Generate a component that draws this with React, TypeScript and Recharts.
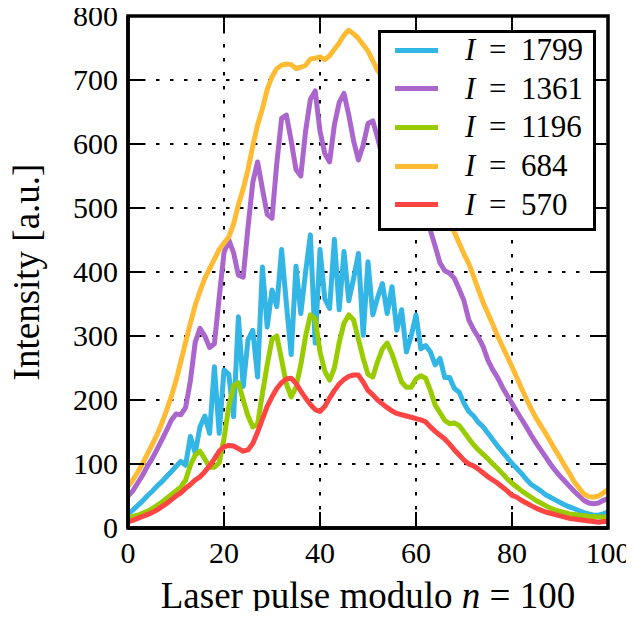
import React from 'react';
import { LineChart, Line, XAxis, YAxis, CartesianGrid, Legend } from 'recharts';

// Laser pulse index n (0..100)
const pulseIndex = [
  0, 1, 2, 3, 4, 5, 6, 7, 8, 9, 10, 11, 12, 13, 14, 15, 16, 17, 18, 19, 20,
  21, 22, 23, 24, 25, 26, 27, 28, 29, 30, 31, 32, 33, 34, 35, 36, 37, 38, 39, 40,
  41, 42, 43, 44, 45, 46, 47, 48, 49, 50, 51, 52, 53, 54, 55, 56, 57, 58, 59, 60,
  61, 62, 63, 64, 65, 66, 67, 68, 69, 70, 71, 72, 73, 74, 75, 76, 77, 78, 79, 80,
  81, 82, 83, 84, 85, 86, 87, 88, 89, 90, 91, 92, 93, 94, 95, 96, 97, 98, 99, 100,
];

const intensity1799 = [
  22, 28, 35, 42, 50, 57, 65, 72, 80, 88, 96, 104, 98, 143, 117, 158, 175, 148, 252, 148, 247,
  240, 174, 330, 221, 294, 309, 236, 408, 314, 372, 346, 435, 350, 271, 409, 335, 400, 458, 289, 435,
  358, 343, 451, 341, 432, 355, 390, 429, 301, 416, 333, 360, 382, 335, 377, 309, 341, 275, 300, 333,
  280, 285, 275, 255, 265, 235, 235, 218, 212, 195, 182, 175, 165, 158, 148, 138, 128, 119, 110, 101,
  93, 85, 76, 68, 63, 58, 52, 48, 44, 40, 36, 33, 30, 27, 24, 22, 20, 20, 22, 25,
];

const intensity1361 = [
  50, 58, 70, 82, 96, 108, 122, 137, 152, 168, 178, 177, 188, 230, 290, 312, 300, 282, 288, 360, 430,
  450, 430, 395, 392, 470, 540, 572, 530, 490, 484, 570, 640, 645, 605, 560, 550, 620, 670, 683, 620,
  585, 572, 630, 665, 679, 645, 605, 575, 598, 632, 636, 610, 580, 575, 595, 605, 590, 560, 535, 515,
  500, 485, 465, 440, 414, 402, 398, 390, 373, 355, 325, 310, 298, 283, 262, 247, 235, 220, 207, 195,
  182, 170, 158, 145, 133, 122, 111, 100, 90, 81, 73, 65, 57, 50, 43, 39, 38, 39, 43, 46,
];

const intensity1196 = [
  16, 18, 20, 23, 26, 30, 35, 40, 46, 52, 58, 64, 75, 98, 114, 120, 108, 95, 95, 102, 140,
  190, 222, 227, 200, 175, 158, 162, 210, 255, 295, 300, 263, 225, 205, 220, 255, 300, 333, 327, 275,
  245, 231, 250, 290, 320, 333, 325, 295, 265, 240, 236, 260, 280, 289, 272, 250, 228, 220, 220, 233,
  238, 234, 215, 192, 180, 168, 163, 164, 160, 150, 140, 130, 122, 115, 108, 100, 93, 85, 77, 70,
  64, 58, 53, 48, 43, 39, 35, 31, 28, 26, 24, 22, 21, 20, 19, 18, 18, 17, 17, 17,
];

const intensity684 = [
  65, 75, 87, 100, 115, 130, 145, 163, 183, 205, 230, 260, 290, 320, 348, 370, 390, 405, 420, 435, 445,
  455, 475, 505, 530, 560, 597, 630, 655, 685, 705, 718, 723, 725, 724, 718, 720, 723, 733, 734, 736,
  732, 738, 748, 758, 770, 778, 772, 765, 755, 745, 730, 715, 705, 695, 683, 668, 652, 635, 618, 600,
  580, 562, 545, 525, 506, 490, 475, 462, 445, 428, 413, 393, 372, 352, 335, 318, 300, 284, 268, 252,
  235, 218, 202, 186, 172, 160, 148, 135, 122, 110, 97, 85, 72, 62, 53, 49, 48, 50, 55, 60,
];

const intensity570 = [
  10, 12, 15, 18, 21, 24, 28, 33, 38, 44, 50, 55, 62, 68, 75, 80, 88, 97, 108, 120, 127,
  129, 128, 124, 120, 122, 132, 150, 170, 190, 205, 218, 227, 233, 234, 226, 214, 203, 193, 185, 182,
  190, 203, 215, 225, 232, 237, 239, 239, 228, 215, 208, 200, 194, 188, 183, 179, 177, 175, 173, 171,
  169, 166, 158, 151, 145, 139, 131, 122, 114, 106, 100, 97, 92, 86, 80, 75, 70, 64, 58, 51,
  48, 43, 39, 35, 31, 28, 25, 23, 21, 19, 17, 15, 14, 13, 12, 11, 10, 9, 10, 10,
];

const seriesKeys = ['i1799', 'i1361', 'i1196', 'i684', 'i570'];
const seriesLabels = ['1799', '1361', '1196', '684', '570'];
const seriesColors = ['#33B5E5', '#AA66CC', '#99CC00', '#FFBB33', '#FF4444'];

const xTicks = [0, 20, 40, 60, 80, 100];
const yTicks = [0, 100, 200, 300, 400, 500, 600, 700, 800];

const data = pulseIndex.map((n, i) => ({
  n,
  i1799: intensity1799[i],
  i1361: intensity1361[i],
  i1196: intensity1196[i],
  i684: intensity684[i],
  i570: intensity570[i],
}));

const FONT = '"Liberation Serif", "Times New Roman", serif';
const TICK_LEN = 16;

// layout
const CHART_W = 634;
const CHART_H = 619;
const MARGIN = { top: 16, right: 26, bottom: 8, left: 0 };
const Y_AXIS_W = 128;
const X_AXIS_H = 83;
const PLOT_W = CHART_W - MARGIN.left - MARGIN.right - Y_AXIS_W;
const PLOT_H = CHART_H - MARGIN.top - MARGIN.bottom - X_AXIS_H;

const BottomTick = (props: any) => {
  const { x, y, payload, index } = props;
  const top = y - PLOT_H;
  return (
    <g>
      <line x1={x} y1={y} x2={x} y2={y - TICK_LEN} stroke="#000" strokeWidth={2} />
      <line x1={x} y1={top} x2={x} y2={top + TICK_LEN} stroke="#000" strokeWidth={2} />
      {index === 0 && (
        <rect x={x} y={top} width={PLOT_W} height={PLOT_H} fill="none" stroke="#000" strokeWidth={3.5} />
      )}
      <text x={x} y={y + 35} textAnchor="middle" fontSize={30} fontFamily={FONT} fill="#000">
        {payload.value}
      </text>
    </g>
  );
};

const LeftTick = (props: any) => {
  const { x, y, payload } = props;
  const right = x + PLOT_W;
  return (
    <g>
      <line x1={x} y1={y} x2={x + TICK_LEN} y2={y} stroke="#000" strokeWidth={2} />
      <line x1={right} y1={y} x2={right - TICK_LEN} y2={y} stroke="#000" strokeWidth={2} />
      <text x={x - 10} y={y + 10} textAnchor="end" fontSize={30} fontFamily={FONT} fill="#000">
        {payload.value}
      </text>
    </g>
  );
};

const XAxisLabel = (props: any) => {
  const { viewBox } = props;
  const cx = viewBox.x + viewBox.width / 2;
  return (
    <text x={cx} y={viewBox.y + 80} textAnchor="middle" fontSize={37} fontFamily={FONT} fill="#000">
      Laser pulse modulo <tspan fontStyle="italic">n</tspan> = 100
    </text>
  );
};

const YAxisLabel = (props: any) => {
  const { viewBox } = props;
  const x = viewBox.x + 39;
  const y = viewBox.y + viewBox.height / 2;
  return (
    <text
      x={x}
      y={y}
      textAnchor="middle"
      fontSize={37}
      fontFamily={FONT}
      fill="#000"
      transform={`rotate(-90, ${x}, ${y})`}
    >
      Intensity [a.u.]
    </text>
  );
};

const LegendBox = () => (
  <div
    style={{
      position: 'relative',
      width: 218,
      height: 201,
      boxSizing: 'border-box',
      border: '3.5px solid #000',
      background: '#fff',
      fontFamily: FONT,
      color: '#000',
    }}
  >
    {seriesLabels.map((label, i) => {
      const center = 17.2 + i * 38.6;
      return (
        <div key={label} style={{ position: 'absolute', left: 0, top: center - 20, height: 40, width: '100%' }}>
          <div
            style={{
              position: 'absolute',
              left: 13.5,
              top: 17.5,
              width: 43,
              height: 5,
              background: seriesColors[i],
            }}
          />
          <span style={{ position: 'absolute', left: 84, top: 0, lineHeight: '40px', fontSize: 31, fontStyle: 'italic' }}>I</span>
          <span style={{ position: 'absolute', left: 108, top: 0, lineHeight: '40px', fontSize: 31 }}>=</span>
          <span style={{ position: 'absolute', left: 140, top: 0, lineHeight: '40px', fontSize: 31 }}>{label}</span>
        </div>
      );
    })}
  </div>
);

export default function App() {
  return (
    <div style={{ margin: -8, width: CHART_W, height: CHART_H }}>
      <LineChart width={CHART_W} height={CHART_H} data={data} margin={MARGIN}>
        <CartesianGrid stroke="#000" strokeWidth={2} strokeDasharray="3.5 10.5" />
        {seriesKeys.map((key, i) => (
          <Line
            key={key}
            type="linear"
            dataKey={key}
            name={`I = ${seriesLabels[i]}`}
            stroke={seriesColors[i]}
            strokeWidth={5}
            strokeLinejoin="round"
            dot={false}
            activeDot={false}
            isAnimationActive={false}
          />
        ))}
        <XAxis
          dataKey="n"
          type="number"
          domain={[0, 100]}
          ticks={xTicks}
          interval={0}
          height={X_AXIS_H}
          tickSize={0}
          tickMargin={0}
          tickLine={false}
          axisLine={{ stroke: '#000', strokeWidth: 3.5 }}
          tick={<BottomTick />}
          label={<XAxisLabel />}
        />
        <YAxis
          type="number"
          domain={[0, 800]}
          ticks={yTicks}
          interval={0}
          width={Y_AXIS_W}
          tickSize={0}
          tickMargin={0}
          tickLine={false}
          axisLine={{ stroke: '#000', strokeWidth: 3.5 }}
          tick={<LeftTick />}
          label={<YAxisLabel />}
        />
        <Legend
          layout="vertical"
          align="center"
          verticalAlign="middle"
          content={<LegendBox />}
          wrapperStyle={{ left: 378, top: 30, width: 218, height: 201, margin: 0 }}
        />
      </LineChart>
    </div>
  );
}
